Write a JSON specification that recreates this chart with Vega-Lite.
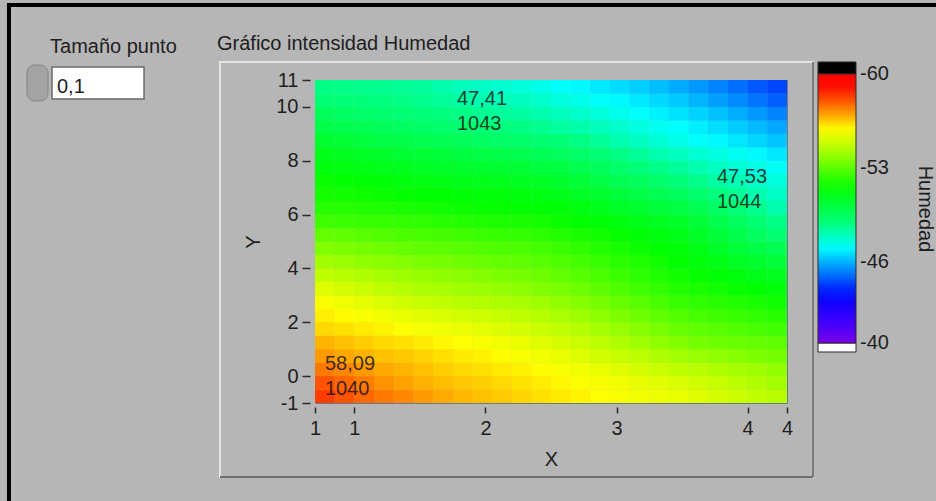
{
  "$schema": "https://vega.github.io/schema/vega-lite/v6.json",
  "width": 472,
  "height": 323,
  "autosize": {"type": "none"},
  "padding": {"left": 315, "top": 80, "right": 149, "bottom": 98},
  "background": "#b6b6b6",
  "config": {
    "view": {"stroke": "#6b7b8c", "strokeWidth": 1},
    "axis": {"labelFont": "Liberation Sans", "labelFontSize": 20, "labelColor": "#1e1e1e", "titleFont": "Liberation Sans", "titleFontSize": 20, "titleFontWeight": "normal", "titleColor": "#1e1e1e", "tickColor": "#2a2a2a", "tickWidth": 1.5, "domain": false, "grid": false}
  },
  "layer": [
    {
      "data": {"values": [{}]},
      "mark": {"type": "rule", "color": "#000000", "strokeWidth": 4},
      "encoding": {"x": {"datum": -1.634, "type": "quantitative"}, "y": {"datum": 13.86, "type": "quantitative"}, "y2": {"datum": -5.5}}
    },
    {
      "data": {"values": [{}]},
      "mark": {"type": "rule", "color": "#000000", "strokeWidth": 4},
      "encoding": {"x": {"datum": -1.65, "type": "quantitative"}, "x2": {"datum": 5.6}, "y": {"datum": 13.786, "type": "quantitative"}}
    },
    {
      "data": {"values": [{}]},
      "mark": {"type": "rect", "filled": false, "stroke": "#e4e4e4", "strokeWidth": 2},
      "encoding": {"x": {"datum": -0.0246, "type": "quantitative"}, "x2": {"datum": 4.4983}, "y": {"datum": 11.669, "type": "quantitative"}, "y2": {"datum": -3.749}}
    },
    {
      "data": {"values": [{}]},
      "mark": {"type": "rule", "color": "#6f6f6f", "strokeWidth": 2},
      "encoding": {"x": {"datum": -0.0246, "type": "quantitative"}, "x2": {"datum": 4.4983}, "y": {"datum": -3.749, "type": "quantitative"}}
    },
    {
      "data": {"values": [{}]},
      "mark": {"type": "rule", "color": "#7a7a7a", "strokeWidth": 2},
      "encoding": {"x": {"datum": 4.4983, "type": "quantitative"}, "y": {"datum": 11.669, "type": "quantitative"}, "y2": {"datum": -3.749}}
    },
    {
      "data": {"values": [{}]},
      "mark": {"type": "rect", "fill": "#000000", "stroke": "#2a2a2a", "strokeWidth": 1},
      "encoding": {"x": {"datum": 4.5365, "type": "quantitative"}, "x2": {"datum": 4.8263}, "y": {"datum": 11.669, "type": "quantitative"}, "y2": {"datum": 11.223}}
    },
    {
      "data": {"values": [{}]},
      "mark": {"type": "rect", "fill": "#ffffff", "stroke": "#2a2a2a", "strokeWidth": 1},
      "encoding": {"x": {"datum": 4.5365, "type": "quantitative"}, "x2": {"datum": 4.8263}, "y": {"datum": 1.2293, "type": "quantitative"}, "y2": {"datum": 0.8949}}
    },
    {
      "data": {"values": [{}]},
      "mark": {"type": "rect", "fill": "#a3a3a3", "stroke": "#858585", "strokeWidth": 1, "cornerRadius": 8},
      "encoding": {"x": {"datum": -1.497, "type": "quantitative"}, "x2": {"datum": -1.336}, "y": {"datum": 11.557, "type": "quantitative"}, "y2": {"datum": 10.22}}
    },
    {
      "data": {"values": [{}]},
      "mark": {"type": "rect", "fill": "#ffffff", "stroke": "#6a6a6a", "strokeWidth": 1.5},
      "encoding": {"x": {"datum": -1.306, "type": "quantitative"}, "x2": {"datum": -0.604}, "y": {"datum": 11.483, "type": "quantitative"}, "y2": {"datum": 10.294}}
    },
    {
      "data": {"values": [{"t": "0,1"}]},
      "mark": {"type": "text", "align": "left", "baseline": "alphabetic", "font": "Liberation Sans", "fontSize": 20, "color": "#1e1e1e"},
      "encoding": {"x": {"datum": -1.268, "type": "quantitative"}, "y": {"datum": 10.517, "type": "quantitative"}, "text": {"field": "t"}}
    },
    {
      "data": {"values": [{"t": "Tamaño punto"}]},
      "mark": {"type": "text", "align": "left", "baseline": "alphabetic", "font": "Liberation Sans", "fontSize": 20, "color": "#1e1e1e"},
      "encoding": {"x": {"datum": -1.321, "type": "quantitative"}, "y": {"datum": 12.003, "type": "quantitative"}, "text": {"field": "t"}}
    },
    {
      "data": {"values": [{"t": "Gráfico intensidad Humedad"}]},
      "mark": {"type": "text", "align": "left", "baseline": "alphabetic", "font": "Liberation Sans", "fontSize": 20, "color": "#1e1e1e"},
      "encoding": {"x": {"datum": -0.0475, "type": "quantitative"}, "y": {"datum": 12.115, "type": "quantitative"}, "text": {"field": "t"}}
    },
    {
      "data": {
        "format": {"type": "csv"},
        "values": "x,y,v\n0.775,-0.75,58.35\n0.925,-0.75,58.05\n1.075,-0.75,57.75\n1.225,-0.75,57.5\n1.375,-0.75,57.3\n1.525,-0.75,57.1\n1.675,-0.75,56.9\n1.825,-0.75,56.75\n1.975,-0.75,56.65\n2.125,-0.75,56.53\n2.275,-0.75,56.38\n2.425,-0.75,56.25\n2.575,-0.75,56.15\n2.725,-0.75,56.03\n2.875,-0.75,55.88\n3.025,-0.75,55.75\n3.175,-0.75,55.65\n3.325,-0.75,55.55\n3.475,-0.75,55.45\n3.625,-0.75,55.3\n3.775,-0.75,55.1\n3.925,-0.75,54.9\n4.075,-0.75,54.7\n4.225,-0.75,54.5\n0.775,-0.25,58.05\n0.925,-0.25,57.75\n1.075,-0.25,57.45\n1.225,-0.25,57.2\n1.375,-0.25,57\n1.525,-0.25,56.83\n1.675,-0.25,56.68\n1.825,-0.25,56.55\n1.975,-0.25,56.45\n2.125,-0.25,56.35\n2.275,-0.25,56.25\n2.425,-0.25,56.13\n2.575,-0.25,55.98\n2.725,-0.25,55.85\n2.875,-0.25,55.75\n3.025,-0.25,55.63\n3.175,-0.25,55.48\n3.325,-0.25,55.33\n3.475,-0.25,55.18\n3.625,-0.25,55\n3.775,-0.25,54.8\n3.925,-0.25,54.6\n4.075,-0.25,54.4\n4.225,-0.25,54.2\n0.775,0.25,57.5\n0.925,0.25,57.3\n1.075,0.25,57.1\n1.225,0.25,56.93\n1.375,0.25,56.78\n1.525,0.25,56.63\n1.675,0.25,56.48\n1.825,0.25,56.35\n1.975,0.25,56.25\n2.125,0.25,56.15\n2.275,0.25,56.05\n2.425,0.25,55.93\n2.575,0.25,55.78\n2.725,0.25,55.63\n2.875,0.25,55.48\n3.025,0.25,55.3\n3.175,0.25,55.1\n3.325,0.25,54.9\n3.475,0.25,54.7\n3.625,0.25,54.53\n3.775,0.25,54.38\n3.925,0.25,54.23\n4.075,0.25,54.08\n4.225,0.25,53.93\n0.775,0.75,57.08\n0.925,0.75,56.93\n1.075,0.75,56.78\n1.225,0.75,56.65\n1.375,0.75,56.55\n1.525,0.75,56.43\n1.675,0.75,56.28\n1.825,0.75,56.15\n1.975,0.75,56.05\n2.125,0.75,55.93\n2.275,0.75,55.78\n2.425,0.75,55.63\n2.575,0.75,55.48\n2.725,0.75,55.28\n2.875,0.75,55.03\n3.025,0.75,54.8\n3.175,0.75,54.6\n3.325,0.75,54.4\n3.475,0.75,54.2\n3.625,0.75,54.03\n3.775,0.75,53.88\n3.925,0.75,53.73\n4.075,0.75,53.58\n4.225,0.75,53.43\n0.775,1.25,56.78\n0.925,1.25,56.63\n1.075,1.25,56.48\n1.225,1.25,56.35\n1.375,1.25,56.25\n1.525,1.25,56.13\n1.675,1.25,55.98\n1.825,1.25,55.85\n1.975,1.25,55.75\n2.125,1.25,55.63\n2.275,1.25,55.48\n2.425,1.25,55.3\n2.575,1.25,55.1\n2.725,1.25,54.88\n2.875,1.25,54.63\n3.025,1.25,54.38\n3.175,1.25,54.13\n3.325,1.25,53.88\n3.475,1.25,53.63\n3.625,1.25,53.45\n3.775,1.25,53.35\n3.925,1.25,53.25\n4.075,1.25,53.15\n4.225,1.25,53.05\n0.775,1.75,56.35\n0.925,1.75,56.25\n1.075,1.75,56.15\n1.225,1.75,56.03\n1.375,1.75,55.88\n1.525,1.75,55.75\n1.675,1.75,55.65\n1.825,1.75,55.53\n1.975,1.75,55.38\n2.125,1.75,55.23\n2.275,1.75,55.08\n2.425,1.75,54.9\n2.575,1.75,54.7\n2.725,1.75,54.48\n2.875,1.75,54.23\n3.025,1.75,53.98\n3.175,1.75,53.73\n3.325,1.75,53.48\n3.475,1.75,53.23\n3.625,1.75,53.05\n3.775,1.75,52.95\n3.925,1.75,52.83\n4.075,1.75,52.68\n4.225,1.75,52.53\n0.775,2.25,56.08\n0.925,2.25,55.93\n1.075,2.25,55.78\n1.225,2.25,55.63\n1.375,2.25,55.48\n1.525,2.25,55.33\n1.675,2.25,55.18\n1.825,2.25,55.05\n1.975,2.25,54.95\n2.125,2.25,54.83\n2.275,2.25,54.68\n2.425,2.25,54.5\n2.575,2.25,54.3\n2.725,2.25,54.08\n2.875,2.25,53.83\n3.025,2.25,53.58\n3.175,2.25,53.33\n3.325,2.25,53.08\n3.475,2.25,52.83\n3.625,2.25,52.65\n3.775,2.25,52.55\n3.925,2.25,52.43\n4.075,2.25,52.28\n4.225,2.25,52.13\n0.775,2.75,55.8\n0.925,2.75,55.6\n1.075,2.75,55.4\n1.225,2.75,55.2\n1.375,2.75,55\n1.525,2.75,54.83\n1.675,2.75,54.68\n1.825,2.75,54.55\n1.975,2.75,54.45\n2.125,2.75,54.35\n2.275,2.75,54.25\n2.425,2.75,54.1\n2.575,2.75,53.9\n2.725,2.75,53.68\n2.875,2.75,53.43\n3.025,2.75,53.18\n3.175,2.75,52.93\n3.325,2.75,52.68\n3.475,2.75,52.43\n3.625,2.75,52.25\n3.775,2.75,52.15\n3.925,2.75,52.03\n4.075,2.75,51.88\n4.225,2.75,51.73\n0.775,3.25,55.3\n0.925,3.25,55.1\n1.075,3.25,54.9\n1.225,3.25,54.7\n1.375,3.25,54.5\n1.525,3.25,54.35\n1.675,3.25,54.25\n1.825,3.25,54.15\n1.975,3.25,54.05\n2.125,3.25,53.93\n2.275,3.25,53.78\n2.425,3.25,53.63\n2.575,3.25,53.48\n2.725,3.25,53.28\n2.875,3.25,53.03\n3.025,3.25,52.78\n3.175,3.25,52.53\n3.325,3.25,52.3\n3.475,3.25,52.1\n3.625,3.25,51.93\n3.775,3.25,51.78\n3.925,3.25,51.63\n4.075,3.25,51.48\n4.225,3.25,51.33\n0.775,3.75,54.68\n0.925,3.75,54.53\n1.075,3.75,54.38\n1.225,3.75,54.23\n1.375,3.75,54.08\n1.525,3.75,53.95\n1.675,3.75,53.85\n1.825,3.75,53.75\n1.975,3.75,53.65\n2.125,3.75,53.55\n2.275,3.75,53.45\n2.425,3.75,53.3\n2.575,3.75,53.1\n2.725,3.75,52.9\n2.875,3.75,52.7\n3.025,3.75,52.48\n3.175,3.75,52.23\n3.325,3.75,52\n3.475,3.75,51.8\n3.625,3.75,51.6\n3.775,3.75,51.4\n3.925,3.75,51.2\n4.075,3.75,51\n4.225,3.75,50.8\n0.775,4.25,54.18\n0.925,4.25,54.03\n1.075,4.25,53.88\n1.225,4.25,53.75\n1.375,4.25,53.65\n1.525,4.25,53.55\n1.675,4.25,53.45\n1.825,4.25,53.35\n1.975,4.25,53.25\n2.125,4.25,53.15\n2.275,4.25,53.05\n2.425,4.25,52.93\n2.575,4.25,52.78\n2.725,4.25,52.6\n2.875,4.25,52.4\n3.025,4.25,52.2\n3.175,4.25,52\n3.325,4.25,51.78\n3.475,4.25,51.53\n3.625,4.25,51.28\n3.775,4.25,51.03\n3.925,4.25,50.78\n4.075,4.25,50.53\n4.225,4.25,50.28\n0.775,4.75,53.65\n0.925,4.75,53.55\n1.075,4.75,53.45\n1.225,4.75,53.33\n1.375,4.75,53.18\n1.525,4.75,53.08\n1.675,4.75,53.03\n1.825,4.75,52.95\n1.975,4.75,52.85\n2.125,4.75,52.78\n2.275,4.75,52.73\n2.425,4.75,52.63\n2.575,4.75,52.48\n2.725,4.75,52.3\n2.875,4.75,52.1\n3.025,4.75,51.9\n3.175,4.75,51.7\n3.325,4.75,51.5\n3.475,4.75,51.3\n3.625,4.75,51.03\n3.775,4.75,50.68\n3.925,4.75,50.35\n4.075,4.75,50.05\n4.225,4.75,49.75\n0.775,5.25,53.15\n0.925,5.25,53.05\n1.075,5.25,52.95\n1.225,5.25,52.85\n1.375,5.25,52.75\n1.525,5.25,52.68\n1.675,5.25,52.63\n1.825,5.25,52.55\n1.975,5.25,52.45\n2.125,5.25,52.38\n2.275,5.25,52.33\n2.425,5.25,52.23\n2.575,5.25,52.08\n2.725,5.25,51.93\n2.875,5.25,51.78\n3.025,5.25,51.6\n3.175,5.25,51.4\n3.325,5.25,51.2\n3.475,5.25,51\n3.625,5.25,50.7\n3.775,5.25,50.3\n3.925,5.25,49.9\n4.075,5.25,49.5\n4.225,5.25,49.1\n0.775,5.75,52.53\n0.925,5.75,52.48\n1.075,5.75,52.43\n1.225,5.75,52.38\n1.375,5.75,52.33\n1.525,5.75,52.25\n1.675,5.75,52.15\n1.825,5.75,52.08\n1.975,5.75,52.03\n2.125,5.75,51.98\n2.275,5.75,51.93\n2.425,5.75,51.83\n2.575,5.75,51.68\n2.725,5.75,51.53\n2.875,5.75,51.38\n3.025,5.75,51.2\n3.175,5.75,51\n3.325,5.75,50.8\n3.475,5.75,50.6\n3.625,5.75,50.3\n3.775,5.75,49.9\n3.925,5.75,49.5\n4.075,5.75,49.1\n4.225,5.75,48.7\n0.775,6.25,52.13\n0.925,6.25,52.08\n1.075,6.25,52.03\n1.225,6.25,51.98\n1.375,6.25,51.93\n1.525,6.25,51.85\n1.675,6.25,51.75\n1.825,6.25,51.68\n1.975,6.25,51.63\n2.125,6.25,51.58\n2.275,6.25,51.53\n2.425,6.25,51.45\n2.575,6.25,51.35\n2.725,6.25,51.18\n2.875,6.25,50.93\n3.025,6.25,50.7\n3.175,6.25,50.5\n3.325,6.25,50.3\n3.475,6.25,50.1\n3.625,6.25,49.8\n3.775,6.25,49.4\n3.925,6.25,49\n4.075,6.25,48.6\n4.225,6.25,48.2\n0.775,6.75,51.83\n0.925,6.75,51.78\n1.075,6.75,51.73\n1.225,6.75,51.65\n1.375,6.75,51.55\n1.525,6.75,51.48\n1.675,6.75,51.43\n1.825,6.75,51.38\n1.975,6.75,51.33\n2.125,6.75,51.28\n2.275,6.75,51.23\n2.425,6.75,51.13\n2.575,6.75,50.98\n2.725,6.75,50.78\n2.875,6.75,50.53\n3.025,6.75,50.28\n3.175,6.75,50.03\n3.325,6.75,49.78\n3.475,6.75,49.53\n3.625,6.75,49.23\n3.775,6.75,48.88\n3.925,6.75,48.53\n4.075,6.75,48.18\n4.225,6.75,47.83\n0.775,7.25,51.65\n0.925,7.25,51.55\n1.075,7.25,51.45\n1.225,7.25,51.35\n1.375,7.25,51.25\n1.525,7.25,51.15\n1.675,7.25,51.05\n1.825,7.25,50.98\n1.975,7.25,50.93\n2.125,7.25,50.88\n2.275,7.25,50.83\n2.425,7.25,50.73\n2.575,7.25,50.58\n2.725,7.25,50.35\n2.875,7.25,50.05\n3.025,7.25,49.78\n3.175,7.25,49.53\n3.325,7.25,49.25\n3.475,7.25,48.95\n3.625,7.25,48.65\n3.775,7.25,48.35\n3.925,7.25,48.08\n4.075,7.25,47.83\n4.225,7.25,47.58\n0.775,7.75,51.25\n0.925,7.75,51.15\n1.075,7.75,51.05\n1.225,7.75,50.95\n1.375,7.75,50.85\n1.525,7.75,50.75\n1.675,7.75,50.65\n1.825,7.75,50.58\n1.975,7.75,50.53\n2.125,7.75,50.45\n2.275,7.75,50.35\n2.425,7.75,50.23\n2.575,7.75,50.08\n2.725,7.75,49.85\n2.875,7.75,49.55\n3.025,7.75,49.25\n3.175,7.75,48.95\n3.325,7.75,48.68\n3.475,7.75,48.43\n3.625,7.75,48.18\n3.775,7.75,47.93\n3.925,7.75,47.68\n4.075,7.75,47.43\n4.225,7.75,47.18\n0.775,8.25,50.98\n0.925,8.25,50.83\n1.075,8.25,50.68\n1.225,8.25,50.55\n1.375,8.25,50.45\n1.525,8.25,50.35\n1.675,8.25,50.25\n1.825,8.25,50.15\n1.975,8.25,50.05\n2.125,8.25,49.95\n2.275,8.25,49.85\n2.425,8.25,49.7\n2.575,8.25,49.5\n2.725,8.25,49.28\n2.875,8.25,49.03\n3.025,8.25,48.75\n3.175,8.25,48.45\n3.325,8.25,48.18\n3.475,8.25,47.93\n3.625,8.25,47.7\n3.775,8.25,47.5\n3.925,8.25,47.28\n4.075,8.25,47.03\n4.225,8.25,46.78\n0.775,8.75,50.48\n0.925,8.75,50.33\n1.075,8.75,50.18\n1.225,8.75,50.05\n1.375,8.75,49.95\n1.525,8.75,49.85\n1.675,8.75,49.75\n1.825,8.75,49.63\n1.975,8.75,49.48\n2.125,8.75,49.35\n2.275,8.75,49.25\n2.425,8.75,49.13\n2.575,8.75,48.98\n2.725,8.75,48.75\n2.875,8.75,48.45\n3.025,8.75,48.18\n3.175,8.75,47.93\n3.325,8.75,47.68\n3.475,8.75,47.43\n3.625,8.75,47.2\n3.775,8.75,47\n3.925,8.75,46.78\n4.075,8.75,46.53\n4.225,8.75,46.28\n0.775,9.25,49.95\n0.925,9.25,49.85\n1.075,9.25,49.75\n1.225,9.25,49.63\n1.375,9.25,49.48\n1.525,9.25,49.35\n1.675,9.25,49.25\n1.825,9.25,49.15\n1.975,9.25,49.05\n2.125,9.25,48.93\n2.275,9.25,48.78\n2.425,9.25,48.6\n2.575,9.25,48.4\n2.725,9.25,48.2\n2.875,9.25,48\n3.025,9.25,47.78\n3.175,9.25,47.53\n3.325,9.25,47.3\n3.475,9.25,47.1\n3.625,9.25,46.88\n3.775,9.25,46.63\n3.925,9.25,46.38\n4.075,9.25,46.13\n4.225,9.25,45.88\n0.775,9.75,49.58\n0.925,9.75,49.43\n1.075,9.75,49.28\n1.225,9.75,49.15\n1.375,9.75,49.05\n1.525,9.75,48.95\n1.675,9.75,48.85\n1.825,9.75,48.73\n1.975,9.75,48.58\n2.125,9.75,48.45\n2.275,9.75,48.35\n2.425,9.75,48.2\n2.575,9.75,48\n2.725,9.75,47.8\n2.875,9.75,47.6\n3.025,9.75,47.38\n3.175,9.75,47.13\n3.325,9.75,46.9\n3.475,9.75,46.7\n3.625,9.75,46.48\n3.775,9.75,46.23\n3.925,9.75,45.95\n4.075,9.75,45.65\n4.225,9.75,45.35\n0.775,10.25,49.03\n0.925,10.25,48.98\n1.075,10.25,48.93\n1.225,10.25,48.85\n1.375,10.25,48.75\n1.525,10.25,48.63\n1.675,10.25,48.48\n1.825,10.25,48.33\n1.975,10.25,48.18\n2.125,10.25,48.05\n2.275,10.25,47.95\n2.425,10.25,47.8\n2.575,10.25,47.6\n2.725,10.25,47.4\n2.875,10.25,47.2\n3.025,10.25,47\n3.175,10.25,46.8\n3.325,10.25,46.58\n3.475,10.25,46.33\n3.625,10.25,46.05\n3.775,10.25,45.75\n3.925,10.25,45.45\n4.075,10.25,45.15\n4.225,10.25,44.85\n0.775,10.75,48.73\n0.925,10.75,48.68\n1.075,10.75,48.63\n1.225,10.75,48.58\n1.375,10.75,48.53\n1.525,10.75,48.4\n1.675,10.75,48.2\n1.825,10.75,48.03\n1.975,10.75,47.88\n2.125,10.75,47.73\n2.275,10.75,47.58\n2.425,10.75,47.4\n2.575,10.75,47.2\n2.725,10.75,47\n2.875,10.75,46.8\n3.025,10.75,46.6\n3.175,10.75,46.4\n3.325,10.75,46.18\n3.475,10.75,45.93\n3.625,10.75,45.65\n3.775,10.75,45.35\n3.925,10.75,45.05\n4.075,10.75,44.75\n4.225,10.75,44.45\n"
      },
      "mark": {"type": "rect", "width": 19.95, "height": 13.75, "clip": true},
      "encoding": {
        "x": {"field": "x", "type": "quantitative", "title": "X",
          "scale": {"domain": [0.7, 4.3], "nice": false, "zero": false},
          "axis": {"values": [0.7, 1, 2, 3, 4, 4.3], "labelExpr": "format(datum.value, '.0f')", "offset": 4, "tickSize": 6, "labelPadding": 5, "titlePadding": 11, "labelFlush": false, "labelOverlap": false}},
        "y": {"field": "y", "type": "quantitative", "title": "Y",
          "scale": {"domain": [-1, 11], "nice": false, "zero": false},
          "axis": {"values": [-1, 0, 2, 4, 6, 8, 10, 11], "labelExpr": "datum.value + ''", "offset": 5, "tickSize": 8, "labelPadding": 4, "titlePadding": 12, "labelFlush": false, "labelOverlap": false}},
        "color": {"field": "v", "type": "quantitative",
          "scale": {"domain": [40, 41.5, 43.5, 45.3, 47.1, 48.8, 51.5, 54.4, 55.9, 57.4, 59, 60], "range": ["#7a00e6", "#4000ff", "#0000ff", "#0080ff", "#00ffff", "#00ff80", "#00ff00", "#b0ff00", "#ffff00", "#ff8000", "#ff1000", "#ff0000"], "interpolate": "rgb"},
          "legend": {"type": "gradient", "orient": "none", "legendX": 503, "legendY": -6, "direction": "vertical", "gradientLength": 269, "gradientThickness": 38, "gradientStrokeColor": "#2a2a2a", "gradientStrokeWidth": 1, "values": [40.01, 46, 53, 59.99], "labelExpr": "'-' + format(datum.value, '.0f')", "labelFont": "Liberation Sans", "labelFontSize": 20, "labelColor": "#1e1e1e", "labelOffset": 4, "labelBaseline": "middle", "labelOverlap": false, "title": "Humedad", "titleOrient": "right", "titleAngle": 90, "titleFont": "Liberation Sans", "titleFontSize": 20, "titleFontWeight": "normal", "titleColor": "#1e1e1e", "titlePadding": 26, "titleAnchor": "middle", "padding": 0}}
      }
    },
    {
      "data": {"values": [
        {"x": 0.776, "y": 0.226, "label": "58,09\n1040"},
        {"x": 1.783, "y": 10.071, "label": "47,41\n1043"},
        {"x": 3.766, "y": 7.173, "label": "47,53\n1044"}
      ]},
      "mark": {"type": "text", "align": "left", "baseline": "alphabetic", "lineBreak": "\n", "lineHeight": 25, "font": "Liberation Sans", "fontSize": 20, "color": "#101010", "opacity": 0.8},
      "encoding": {
        "x": {"field": "x", "type": "quantitative"},
        "y": {"field": "y", "type": "quantitative"},
        "text": {"field": "label"}
      }
    }
  ]
}
